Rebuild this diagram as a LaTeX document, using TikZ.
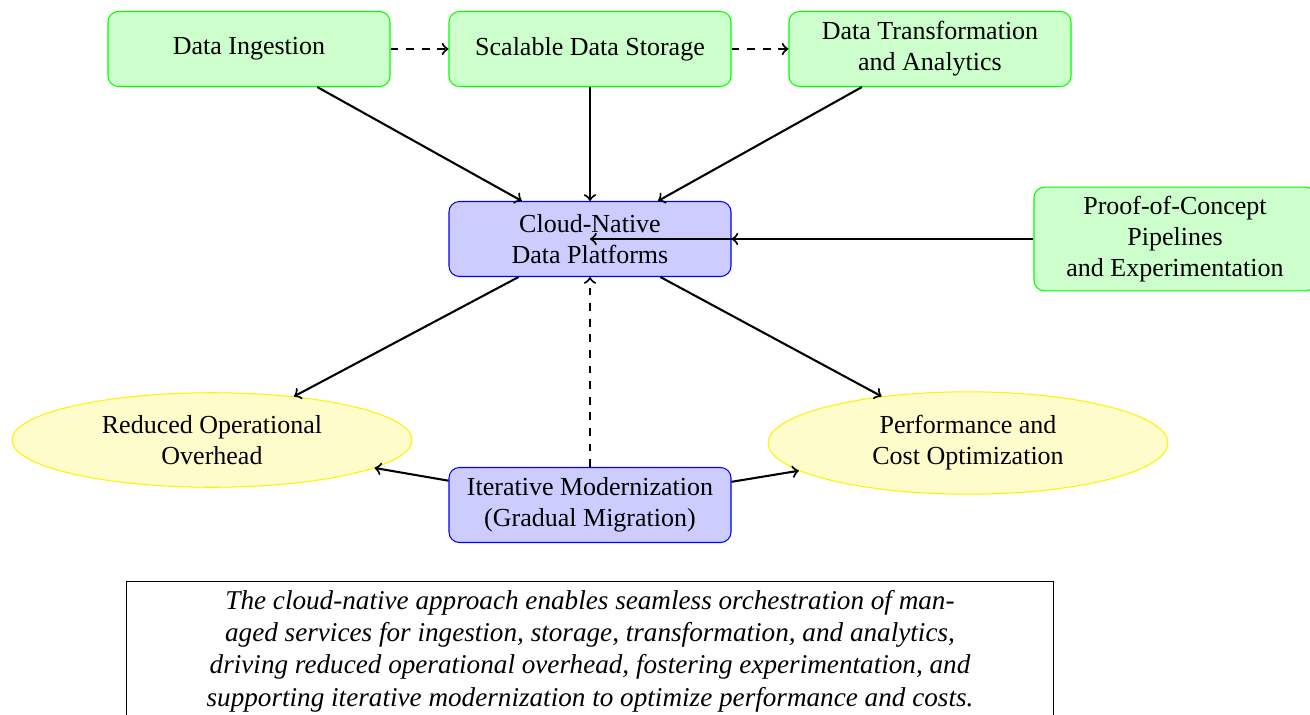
\documentclass[tikz,border=0pt]{standalone}
\usepackage{fontspec}
\setmainfont{Liberation Serif}
\usetikzlibrary{shapes.geometric}

\tikzset{
  stage/.style={draw=green, fill=green!20, rounded corners, align=center,
    minimum width=108.46pt, minimum height=28.85pt},
  platform/.style={draw=blue, fill=blue!20, rounded corners, align=center,
    minimum width=108.46pt, minimum height=28.85pt},
  outcome/.style={ellipse, draw=yellow, fill=yellow!20, align=center,
    minimum width=153.8pt},
  flow/.style={->, thick},
  soft/.style={->, thick, dashed},
  note/.style={draw, align=center, font=\fontsize{10.45pt}{12.4pt}\selectfont\itshape,
    minimum width=356.2pt}
}

\begin{document}
\begin{tikzpicture}[x=0.38462pt, y=-0.38462pt]
  \useasboundingbox (0,0) rectangle (1310,715);

  % pipeline stages
  \node[stage] (ingest) at (249,49) {Data Ingestion};
  \node[stage] (store) at (590,49) {Scalable Data Storage};
  \node[stage] (transform) at (930,49) {Data Transformation\\and Analytics};

  % platform core and experimentation
  \node[platform] (cloud) at (590,239) {Cloud-Native\\Data Platforms};
  \node[stage] (poc) at (1175,239) {Proof-of-Concept\\Pipelines\\and Experimentation};

  % outcomes
  \node[outcome] (overhead) at (212,440) {Reduced Operational\\Overhead};
  \node[outcome] (perf) at (968,443) {Performance and\\Cost Optimization};

  % modernization path
  \node[platform] (iter) at (590,505) {Iterative Modernization\\(Gradual Migration)};

  % summary note
  \node[note, anchor=north] (summary) at (590,581) {The cloud-native approach enables seamless orchestration of man-\\aged services for ingestion, storage, transformation, and analytics,\\driving reduced operational overhead, fostering experimentation, and\\supporting iterative modernization to optimize performance and costs.};

  % connectors
  \draw[soft] (ingest) -- (store);
  \draw[soft] (store) -- (transform);
  \draw[flow] (ingest) -- (cloud);
  \draw[flow] (store) -- (cloud);
  \draw[flow] (transform) -- (cloud);
  \draw[flow] (poc) -- (cloud);
  \draw[flow] (poc) -- (cloud.center);
  \draw[flow] (cloud) -- (overhead);
  \draw[flow] (cloud) -- (perf);
  \draw[soft] (iter) -- (cloud);
  \draw[flow] (iter) -- (overhead);
  \draw[flow] (iter) -- (perf);
\end{tikzpicture}
\end{document}
